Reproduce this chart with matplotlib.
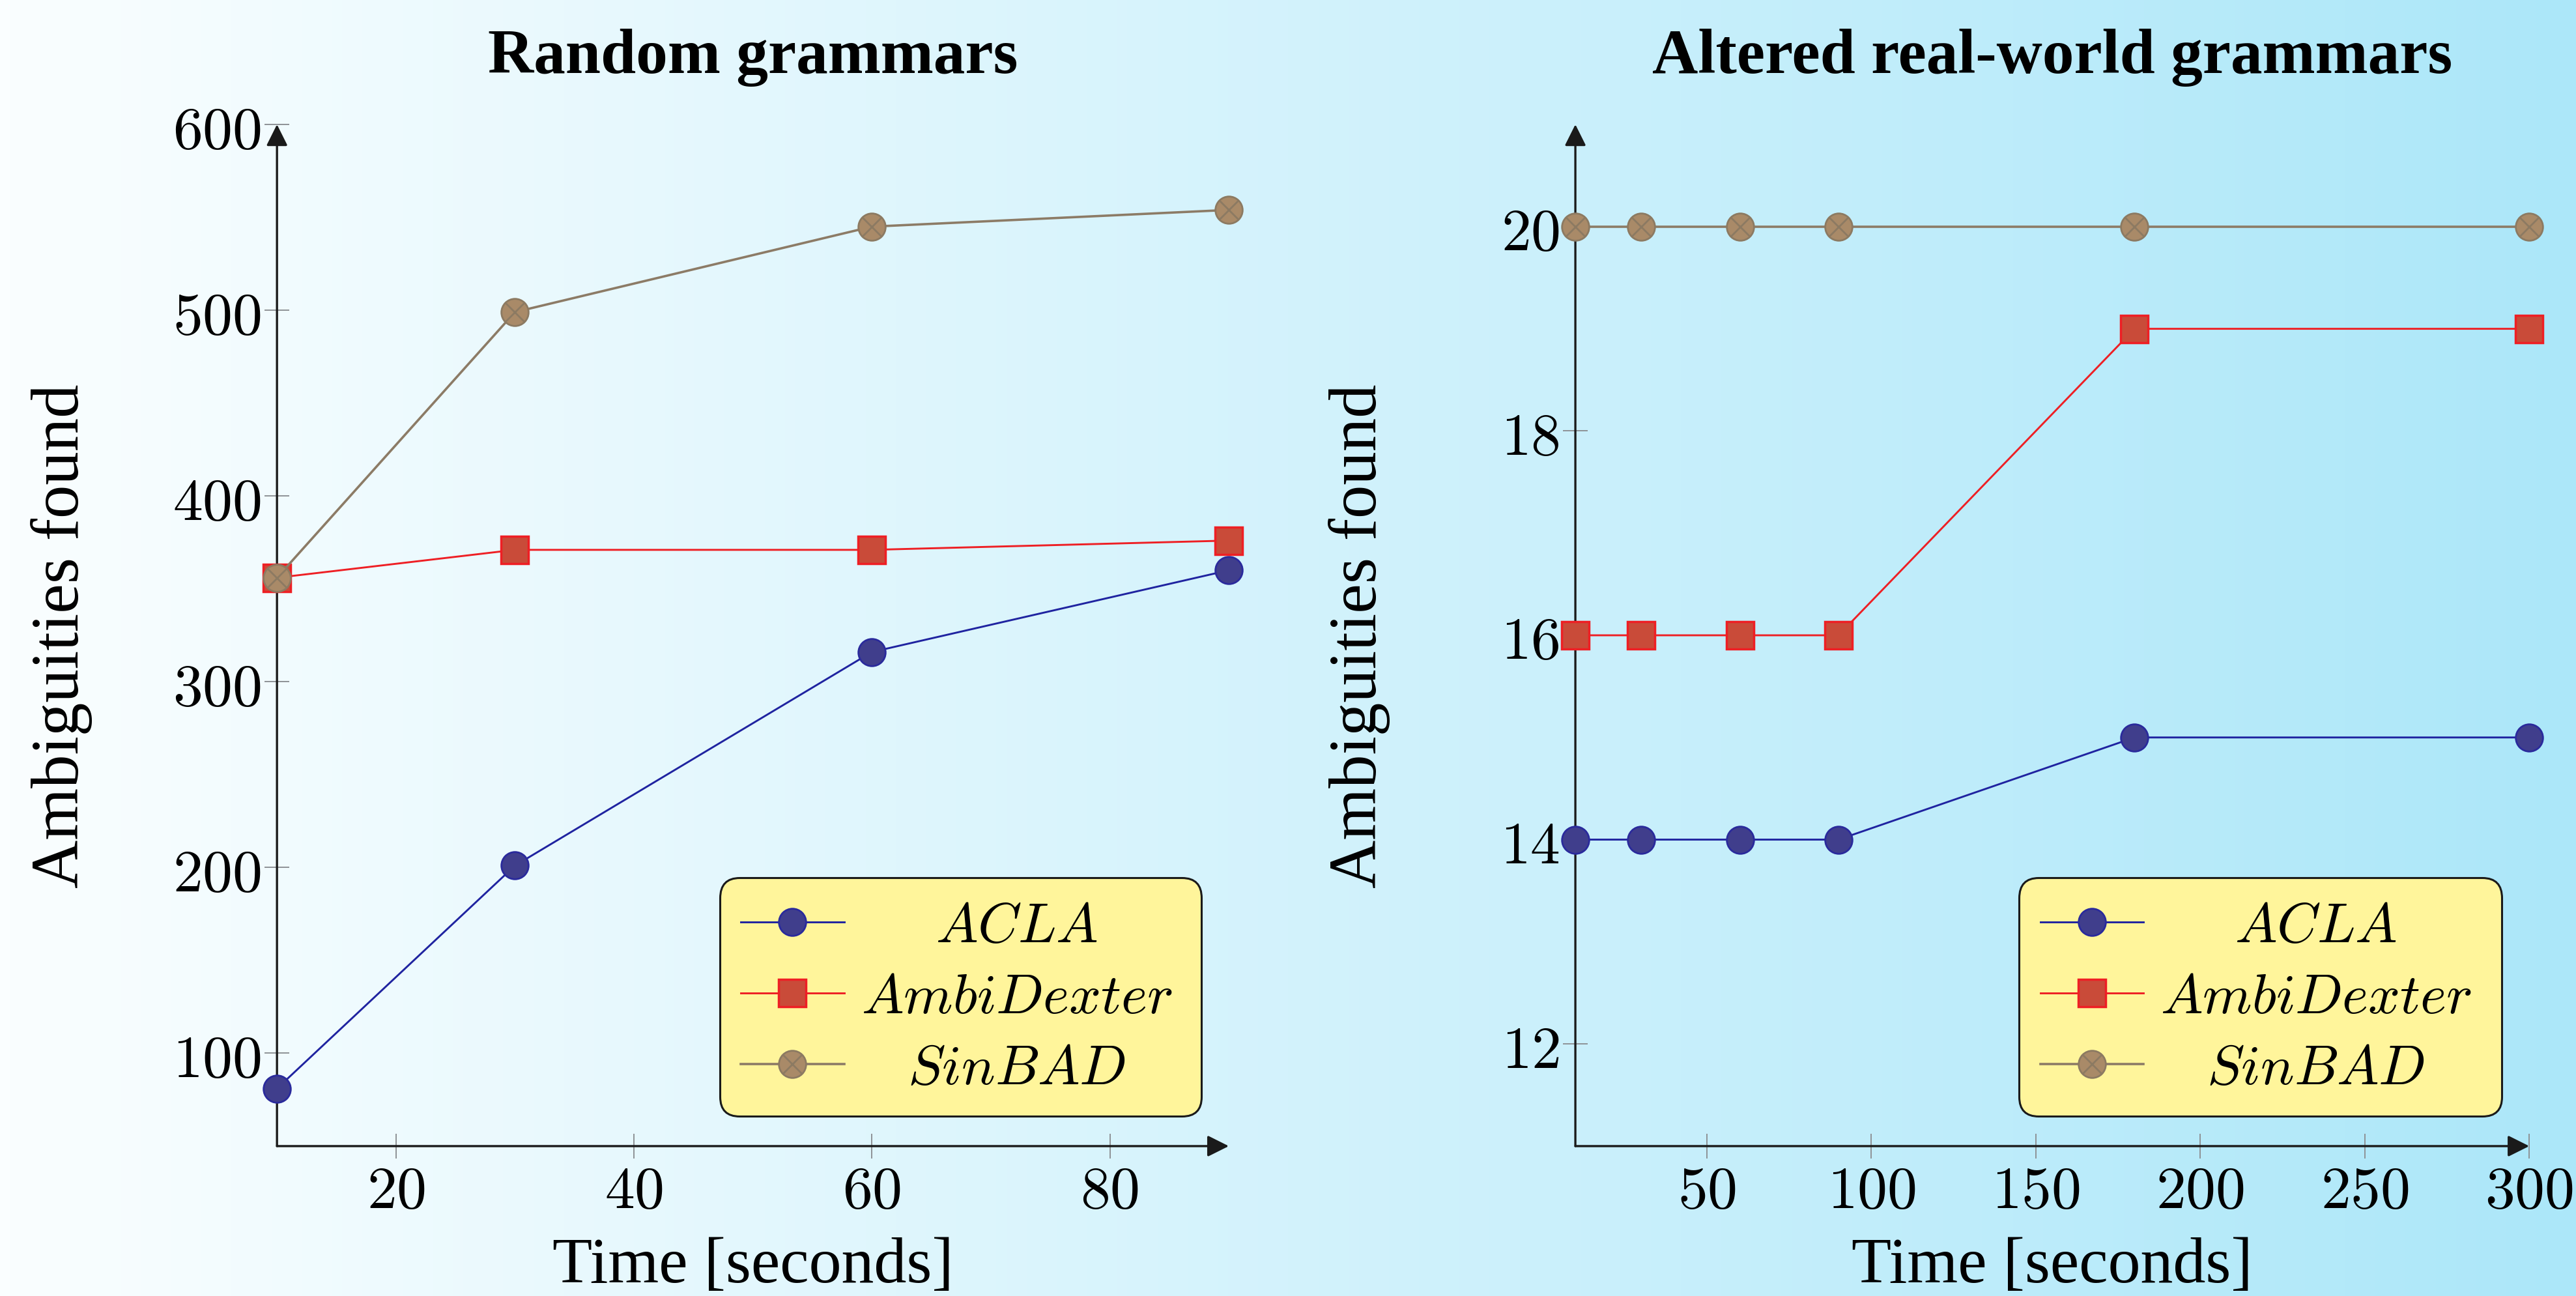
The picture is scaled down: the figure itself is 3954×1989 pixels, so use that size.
import numpy as np
import matplotlib
matplotlib.use("Agg")
import matplotlib.pyplot as plt
from matplotlib.colors import LinearSegmentedColormap

plt.rcParams['mathtext.fontset'] = 'cm'

# data
series_names = ['ACLA', 'AmbiDexter', 'SinBAD']

random_time = [10, 30, 60, 90]
random_acla = [81, 201, 316, 360]
random_ambi = [356, 371, 371, 376]
random_sinbad = [356, 499, 545, 554]

real_time = [10, 30, 60, 90, 180, 300]
real_acla = [14, 14, 14, 14, 15, 15]
real_ambi = [16, 16, 16, 16, 19, 19]
real_sinbad = [20, 20, 20, 20, 20, 20]

random_xticks = [20, 40, 60, 80]
random_yticks = [100, 200, 300, 400, 500, 600]
real_xticks = [50, 100, 150, 200, 250, 300]
real_yticks = [12, 14, 16, 18, 20]

titles = ['Random grammars', 'Altered real-world grammars']

SERIF = 'Liberation Serif'
TICK_GRAY = '#8e9296'


def draw_panel(ax, title, time, acla, ambi, sinbad, xlim, ylim, xticks, yticks):
    ax.set_facecolor('none')
    ax.set_xlim(xlim)
    ax.set_ylim(ylim)
    for s in ax.spines.values():
        s.set_visible(False)

    # axis lines with arrow heads
    arrow = dict(arrowstyle='-|>,head_length=1.0,head_width=0.5', lw=2.4, color='#1a1a1a',
                 shrinkA=0, shrinkB=0, mutation_scale=20)
    ax.annotate('', xy=(1, 0), xytext=(0, 0), xycoords='axes fraction', arrowprops=arrow)
    ax.annotate('', xy=(0, 1), xytext=(0, 0), xycoords='axes fraction', arrowprops=arrow)

    ms = 30
    l1, = ax.plot(time, acla, '-o', color='#1f23a0', lw=2.1, ms=ms, mfc='#403e8c', mec='#2a2a9c',
                  mew=2, clip_on=False, zorder=3)
    l2, = ax.plot(time, ambi, '-s', color='#ee1f24', lw=2.1, ms=ms, mfc='#c94b39', mec='#ee1f24',
                  mew=2.5, clip_on=False, zorder=4)
    l3, = ax.plot(time, sinbad, '-o', color='#8c7b66', lw=2.6, ms=ms, mfc='#a98a68', mec='#8c7a62',
                  mew=2, clip_on=False, zorder=5)
    l3x, = ax.plot(time, sinbad, 'x', ms=21, mec='#8c7a62', mew=2, clip_on=False, zorder=6)

    ax.set_xticks(xticks, labels=[f'${t}$' for t in xticks])
    ax.set_yticks(yticks, labels=[f'${t}$' for t in yticks])
    ax.tick_params(direction='inout', length=27, width=1.4, color=TICK_GRAY, labelsize=66)
    ax.tick_params(axis='x', pad=3)
    ax.tick_params(axis='y', pad=4)

    ax.set_title(title, fontsize=70, fontweight='bold', family=SERIF, pad=57.6)
    ax.set_xlabel('Time [seconds]', fontsize=72, family=SERIF, va='baseline')
    ax.set_ylabel('Ambiguities found', fontsize=74, family=SERIF)
    ax.xaxis.set_label_coords(0.5, -0.1327)
    ax.yaxis.set_label_coords(-0.194, 0.5)

    # expand mode: box spans the given width, spare room goes to the right
    labels = [f'${name}$' for name in series_names]
    leg = ax.legend([l1, l2, (l3, l3x)], labels, loc='lower left', mode='expand',
                    bbox_to_anchor=(0.465, 0.029, 0.506, 0.23), borderaxespad=0, fontsize=62,
                    handlelength=1.84, handletextpad=0.3, labelspacing=0.3,
                    borderpad=0.38, fancybox=True, framealpha=1, facecolor='#fff59b',
                    edgecolor='#1a1a1a')
    leg.get_frame().set_linewidth(2.2)
    leg.get_frame().set_boxstyle('round', pad=0, rounding_size=0.35)
    return leg


fig = plt.figure(figsize=(39.55, 19.9), dpi=100)

# background gradient
bg = fig.add_axes([0, 0, 1, 1], zorder=-10)
cmap = LinearSegmentedColormap.from_list('bg', ['#fafeff', '#ace7f9'])
bg.imshow(np.linspace(0, 1, 512)[None, :], aspect='auto', cmap=cmap, extent=[0, 1, 0, 1])
bg.set_axis_off()

ax1 = fig.add_axes([0.1075, 0.1156, 0.3694, 0.7879])
ax2 = fig.add_axes([0.6114, 0.1156, 0.3702, 0.7879])

legs = [
    draw_panel(ax1, titles[0], random_time, random_acla, random_ambi, random_sinbad,
               (10, 90), (50, 600), random_xticks, random_yticks),
    draw_panel(ax2, titles[1], real_time, real_acla, real_ambi, real_sinbad,
               (10, 300), (11, 21), real_xticks, real_yticks),
]

# centre the legend labels in their column, like pgfplots does
fig.canvas.draw()
for leg in legs:
    texts = leg.get_texts()
    widths = [t.get_window_extent().width for t in texts]
    w_max = max(widths)
    for t, w in zip(texts, widths):
        t.set_x((w_max - w) / 2)

fig.savefig('out.png', dpi=100)
